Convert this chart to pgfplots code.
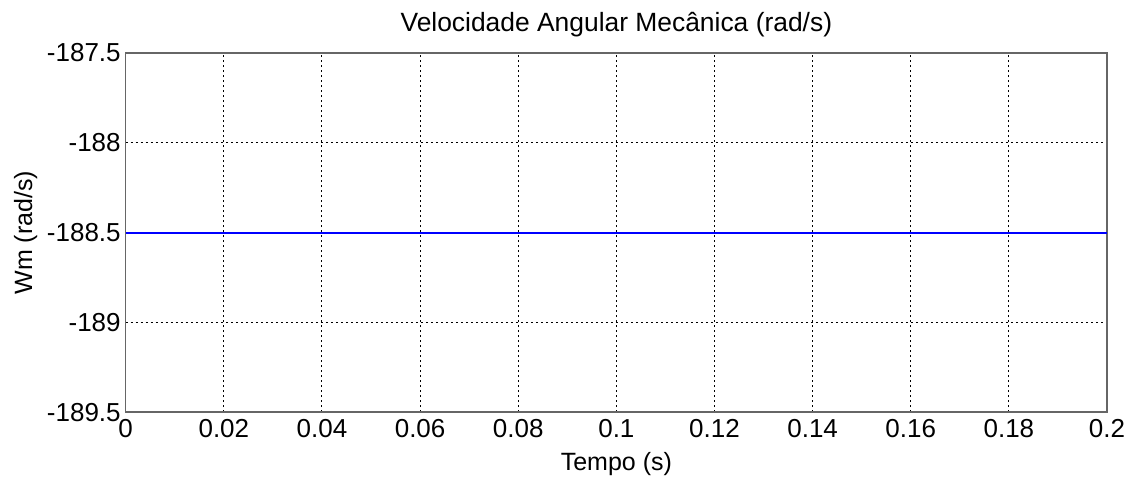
\documentclass[border=0pt]{standalone}
\usepackage{pgfplots}
\pgfplotsset{compat=1.18}
\usepackage{fontspec}
\setmainfont{Liberation Sans}
\begin{document}
\begin{tikzpicture}
\begin{axis}[
    scale only axis,
    width=490.5pt,
    height=179.5pt,
    xmin=0, xmax=0.2,
    ymin=-189.5, ymax=-187.5,
    xtick={0,0.02,...,0.2},
    ytick={-189.5,-189,-188.5,-188,-187.5},
    xticklabels={0,0.02,0.04,0.06,0.08,0.1,0.12,0.14,0.16,0.18,0.2},
    yticklabels={-189.5,-189,-188.5,-188,-187.5},
    major tick length=0pt,
    grid=major,
    major grid style={black, dash pattern=on 1pt off 1.5pt, line width=0.5pt},
    axis line style={black!60, line width=0.7pt},
    tick label style={font=\fontsize{13}{15}\selectfont},
    xticklabel style={yshift=0pt},
    yticklabel style={xshift=1pt},
    title={Velocidade Angular Mecânica (rad/s)},
    title style={font=\fontsize{13.2}{15}\selectfont, yshift=-1.5pt},
    xlabel={Tempo (s)},
    ylabel={Wm (rad/s)},
    label style={font=\fontsize{12.5}{14}\selectfont},
    xlabel style={yshift=-0.5pt},
    ylabel style={yshift=-2pt},
]
\addplot[blue, line width=1pt] coordinates {
    (0,-188.5)
    (0.2,-188.5)
};
\end{axis}
\pgfresetboundingbox
\useasboundingbox ([xshift=-62.85pt,yshift=-32pt]current axis.south west)
    rectangle ([xshift=15.5pt,yshift=26.5pt]current axis.north east);
\end{tikzpicture}
\end{document}
